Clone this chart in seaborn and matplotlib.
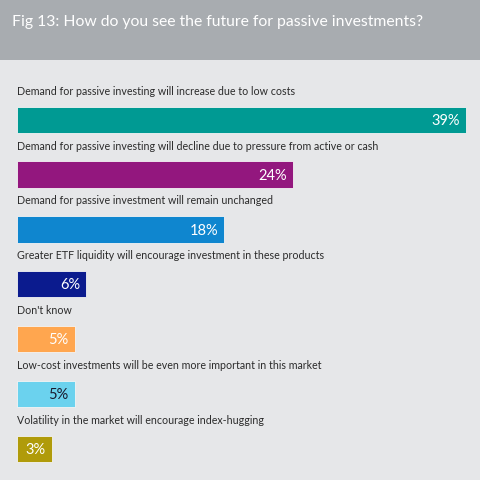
import pandas as pd
import seaborn as sns
import matplotlib.pyplot as plt

# data
answers = [
    "Demand for passive investing will increase due to low costs",
    "Demand for passive investing will decline due to pressure from active or cash",
    "Demand for passive investment will remain unchanged",
    "Greater ETF liquidity will encourage investment in these products",
    "Don't know",
    "Low-cost investments will be even more important in this market",
    "Volatility in the market will encourage index-hugging",
]
shares = [39, 24, 18, 6, 5, 5, 3]
colors = ["#009a93", "#93177e", "#0f86cf", "#0b1b8e", "#ffa64f", "#6bd2ee", "#b09b0a"]
label_colors = ["white", "white", "white", "white", "white", "#1a1a2e", "white"]

title = "Fig 13: How do you see the future for passive investments?"

df = pd.DataFrame({"answer": answers, "share": shares})

sns.set_theme(style="white")
plt.rcParams["font.family"] = ["Lato", "DejaVu Sans"]

bg = "#e6e7e9"
fig = plt.figure(figsize=(4.8, 4.8), dpi=100, facecolor=bg)

# grey header band
head = fig.add_axes([0, 1 - 60 / 480, 1, 60 / 480])
head.set_facecolor("#a8acb0")
head.set_xticks([])
head.set_yticks([])
for s in head.spines.values():
    s.set_visible(False)
head.text(12 / 480, 0.63, title, transform=head.transAxes, color="white",
          fontsize=11.3, va="center", ha="left")

ax = fig.add_axes([17 / 480, 0, 460 / 480, 415 / 480])
ax.set_facecolor(bg)

sns.barplot(data=df, x="share", y="answer", hue="answer", palette=colors,
            orient="h", width=0.48, legend=False, ax=ax, saturation=1,
            edgecolor="#f4f4f4", linewidth=0.6)

ax.set_xlim(0, 40)
ax.set_ylim(6.57, -1.0)
ax.axis("off")

for i, (lab, val) in enumerate(zip(answers, shares)):
    ax.text(0, i - 0.52, lab, fontsize=7.7, color="#2b2b2b", va="center", ha="left")
    ax.text(val - 0.5, i + 0.02, f"{val}%", fontsize=10.5, color=label_colors[i],
            va="center", ha="right")

fig.savefig("out.png", dpi=100, facecolor=bg)
